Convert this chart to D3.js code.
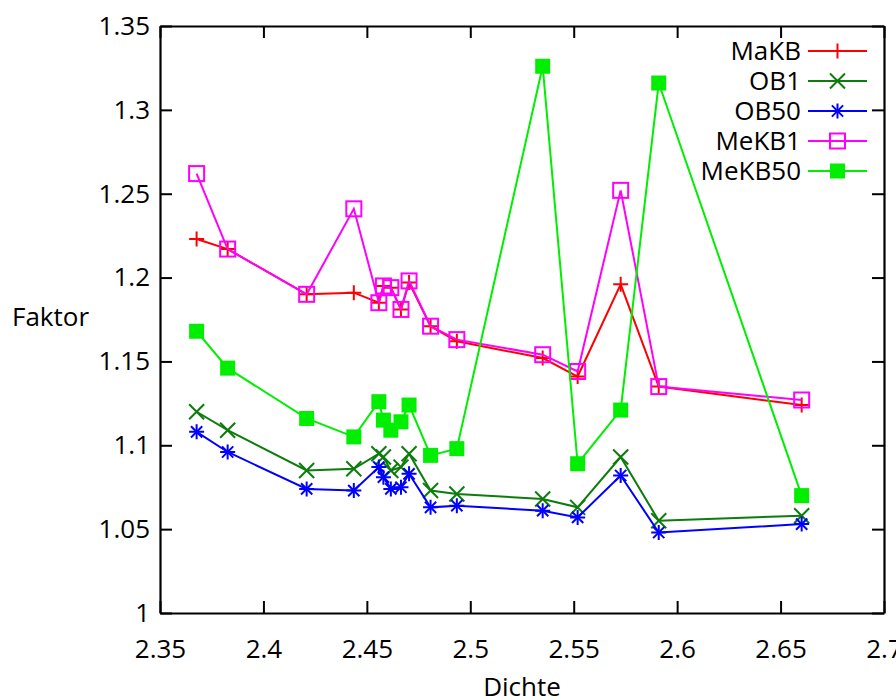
<!DOCTYPE html>
<html>
<head>
<meta charset="utf-8">
<script src="https://cdn.jsdelivr.net/npm/d3@7"></script>
<style>
  html, body { margin: 0; padding: 0; background: #fff; }
  svg text { font-family: "Open Sans", "DejaVu Sans", sans-serif; fill: #000; }
</style>
</head>
<body>
<svg id="chart" width="896" height="700"></svg>
<script>

const dichte = [2.3677, 2.3827, 2.4209, 2.4437, 2.4558, 2.4580, 2.4616, 2.4665,
                2.4704, 2.4808, 2.4935, 2.5350, 2.5519, 2.5727, 2.5911, 2.6602];

const makb   = [1.223, 1.217, 1.190, 1.191, 1.185, 1.195, 1.194, 1.181,
                1.197, 1.171, 1.162, 1.152, 1.141, 1.196, 1.135, 1.124];
const ob1    = [1.120, 1.109, 1.085, 1.086, 1.095, 1.093, 1.085, 1.087,
                1.095, 1.073, 1.071, 1.068, 1.063, 1.093, 1.055, 1.058];
const ob50   = [1.108, 1.096, 1.074, 1.073, 1.087, 1.081, 1.074, 1.075,
                1.083, 1.063, 1.064, 1.061, 1.057, 1.082, 1.048, 1.053];
const mekb1  = [1.262, 1.217, 1.190, 1.241, 1.185, 1.195, 1.194, 1.181,
                1.198, 1.171, 1.163, 1.154, 1.144, 1.252, 1.135, 1.127];
const mekb50 = [1.168, 1.146, 1.116, 1.105, 1.126, 1.115, 1.109, 1.114,
                1.124, 1.094, 1.098, 1.326, 1.089, 1.121, 1.316, 1.070];

const series_names = ["MaKB", "OB1", "OB50", "MeKB1", "MeKB50"];

const x_ticks = [2.35, 2.4, 2.45, 2.5, 2.55, 2.6, 2.65, 2.7];
const y_ticks = [1, 1.05, 1.1, 1.15, 1.2, 1.25, 1.3, 1.35];

const vis = {

    svg : d3.select("svg#chart"),

    margin : { left : 160, right : 884, top : 26, bottom : 613 },

    font : 26,

    x : null,
    y : null,

    styles : {
        MaKB   : { color : "#ff0000", marker : "plus" },
        OB1    : { color : "#0c7c0c", marker : "cross" },
        OB50   : { color : "#0000ff", marker : "star" },
        MeKB1  : { color : "#ff00ff", marker : "box" },
        MeKB50 : { color : "#00ee00", marker : "boxfill" }
    },

    scales : function() {

        this.x = d3.scaleLinear().domain([2.35, 2.7]).range([this.margin.left, this.margin.right]);
        this.y = d3.scaleLinear().domain([1, 1.35]).range([this.margin.bottom, this.margin.top]);

    },

    axes : {

        tick : 12,

        draw : function() {

            const m = vis.margin;
            const t = this.tick;

            const style = g => {
                g.select(".domain").attr("stroke", "#000").attr("stroke-width", 2.2);
                g.selectAll(".tick line").attr("stroke", "#000").attr("stroke-width", 2);
                g.selectAll(".tick text").attr("font-size", vis.font).attr("font-family", null);
            };

            vis.svg.append("g")
              .attr("transform", `translate(0,${m.bottom})`)
              .call(d3.axisBottom(vis.x).tickValues(x_ticks).tickFormat(d => String(d))
                      .tickSize(-t).tickSizeOuter(0).tickPadding(27))
              .call(style);

            vis.svg.append("g")
              .attr("transform", `translate(0,${m.top})`)
              .call(d3.axisTop(vis.x).tickValues(x_ticks).tickFormat("")
                      .tickSize(-t).tickSizeOuter(0))
              .call(style);

            vis.svg.append("g")
              .attr("transform", `translate(${m.left},0)`)
              .call(d3.axisLeft(vis.y).tickValues(y_ticks).tickFormat(d => String(d))
                      .tickSize(-t).tickSizeOuter(0).tickPadding(10))
              .call(style);

            vis.svg.append("g")
              .attr("transform", `translate(${m.right},0)`)
              .call(d3.axisRight(vis.y).tickValues(y_ticks).tickFormat("")
                      .tickSize(-t).tickSizeOuter(0))
              .call(style);

            vis.svg.append("text")
              .attr("x", (m.left + m.right) / 2)
              .attr("y", 696)
              .attr("text-anchor", "middle")
              .attr("font-size", vis.font)
              .text("Dichte");

            vis.svg.append("text")
              .attr("x", 12)
              .attr("y", 326)
              .attr("font-size", vis.font)
              .text("Faktor");

        }

    },

    marker : function(g, type, color, cx, cy) {

        const r = 7.5;

        if (type === "plus" || type === "star") {
            g.append("path")
              .attr("d", `M${cx - r},${cy}H${cx + r}M${cx},${cy - r}V${cy + r}`)
              .attr("stroke", color).attr("stroke-width", 2).attr("fill", "none");
        }
        if (type === "cross" || type === "star") {
            const k = type === "star" ? r * 0.75 : r;
            g.append("path")
              .attr("d", `M${cx - k},${cy - k}L${cx + k},${cy + k}M${cx - k},${cy + k}L${cx + k},${cy - k}`)
              .attr("stroke", color).attr("stroke-width", 2).attr("fill", "none");
        }
        if (type === "box") {
            g.append("rect")
              .attr("x", cx - r).attr("y", cy - r).attr("width", 2 * r).attr("height", 2 * r)
              .attr("stroke", color).attr("stroke-width", 2).attr("fill", "none");
        }
        if (type === "boxfill") {
            g.append("rect")
              .attr("x", cx - r).attr("y", cy - r).attr("width", 2 * r).attr("height", 2 * r)
              .attr("fill", color);
        }

    },

    series : {

        draw : function() {

            const all = [makb, ob1, ob50, mekb1, mekb50];

            const line = d3.line()
              .x((d, i) => vis.x(dichte[i]))
              .y(d => vis.y(d));

            all.forEach((values, k) => {

                const name = series_names[k];
                const st = vis.styles[name];
                const g = vis.svg.append("g").attr("class", "series " + name);

                g.append("path")
                  .datum(values)
                  .attr("d", line)
                  .attr("fill", "none")
                  .attr("stroke", st.color)
                  .attr("stroke-width", 2);

                values.forEach((v, i) => {
                    vis.marker(g, st.marker, st.color, vis.x(dichte[i]), vis.y(v));
                });

            });

        }

    },

    legend : {

        top : 51,
        step : 30,

        draw : function() {

            series_names.forEach((name, k) => {

                const st = vis.styles[name];
                const yy = this.top + k * this.step;
                const g = vis.svg.append("g").attr("class", "legend");

                g.append("text")
                  .attr("x", 801)
                  .attr("y", yy)
                  .attr("dy", "0.36em")
                  .attr("text-anchor", "end")
                  .attr("font-size", vis.font)
                  .text(name);

                g.append("line")
                  .attr("x1", 808).attr("x2", 867)
                  .attr("y1", yy).attr("y2", yy)
                  .attr("stroke", st.color).attr("stroke-width", 2);

                vis.marker(g, st.marker, st.color, 837.5, yy);

            });

        }

    },

    ctrl : {

        init : function() {
            vis.scales();
            vis.series.draw();
            vis.axes.draw();
            vis.legend.draw();
        }

    }

};

vis.ctrl.init();

</script>
</body>
</html>
